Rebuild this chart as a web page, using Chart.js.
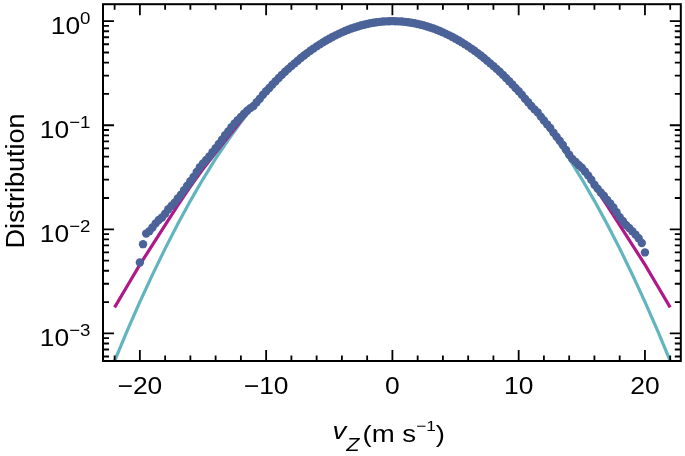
<!DOCTYPE html>
<html>
<head>
<meta charset="utf-8">
<script src="https://cdn.jsdelivr.net/npm/chart.js@4.4.0/dist/chart.umd.min.js"></script>
<style>
  html, body { margin: 0; padding: 0; background: #fff; }
  #wrap { width: 685px; height: 456px; }
</style>
</head>
<body>
<div id="wrap"><canvas id="grafico"></canvas></div>
<script>
// curvas teóricas (x cada 1 m/s)
const curveX = [-22,-21,-20,-19,-18,-17,-16,-15,-14,-13,-12,-11,-10,-9,-8,-7,-6,-5,-4,-3,-2,-1,0,
                1,2,3,4,5,6,7,8,9,10,11,12,13,14,15,16,17,18,19,20,21,22];
const gaussY = [0.000544,0.001062,0.002006,0.003676,0.00653,0.01125,0.01877,0.03039,0.04767,0.07249,0.1069,0.1528,
                0.2117,0.2843,0.3701,0.4671,0.5718,0.6783,0.7798,0.8696,0.9397,0.9846,1.0,
                0.9846,0.9397,0.8696,0.7798,0.6783,0.5718,0.4671,0.3701,0.2843,0.2117,
                0.1528,0.1069,0.07249,0.04767,0.03039,0.01877,0.01125,0.00653,0.003676,0.002006,0.001062,0.000544];
const kappaY = [0.00178,0.00285,0.00457,0.00708,0.01096,0.0170,0.0257,0.0380,0.0543,0.0776,0.1096,0.1549,
                0.2128,0.2850,0.3705,0.4675,0.5720,0.6785,0.7800,0.8697,0.9397,0.9846,1.0,
                0.9846,0.9397,0.8697,0.7800,0.6785,0.5720,0.4675,0.3705,0.2850,0.2128,
                0.1549,0.1096,0.0776,0.0543,0.0380,0.0257,0.0170,0.01096,0.00708,0.00457,0.00285,0.00178];

// datos medidos
const dotsX = [-20,-19.75,-19.5,-19.25,-19,-18.75,-18.5,-18.25,-18,-17.75,-17.5,-17.25,-17,-16.75,-16.5,-16.25,
  -16,-15.75,-15.5,-15.25,-15,-14.75,-14.5,-14.25,-14,-13.75,-13.5,-13.25,-13,-12.75,-12.5,-12.25,
  -12,-11.75,-11.5,-11.25,-11,-10.75,-10.5,-10.25,-10,-9.75,-9.5,-9.25,-9,-8.75,-8.5,-8.25,
  -8,-7.75,-7.5,-7.25,-7,-6.75,-6.5,-6.25,-6,-5.75,-5.5,-5.25,-5,-4.75,-4.5,-4.25,
  -4,-3.75,-3.5,-3.25,-3,-2.75,-2.5,-2.25,-2,-1.75,-1.5,-1.25,-1,-0.75,-0.5,-0.25,
  0,0.25,0.5,0.75,1,1.25,1.5,1.75,2,2.25,2.5,2.75,3,3.25,3.5,3.75,
  4,4.25,4.5,4.75,5,5.25,5.5,5.75,6,6.25,6.5,6.75,7,7.25,7.5,7.75,
  8,8.25,8.5,8.75,9,9.25,9.5,9.75,10,10.25,10.5,10.75,11,11.25,11.5,11.75,
  12,12.25,12.5,12.75,13,13.25,13.5,13.75,14,14.25,14.5,14.75,15,15.25,15.5,15.75,
  16,16.25,16.5,16.75,17,17.25,17.5,17.75,18,18.25,18.5,18.75,19,19.25,19.5,19.75,20];
const dotsY = [0.0048,0.0072,0.0091,0.0096,0.0104,0.0114,0.0123,0.0130,0.0141,0.0156,0.0168,0.0180,0.0198,0.0215,0.0238,0.0262,
  0.0290,0.0318,0.0355,0.0395,0.0430,0.0465,0.0500,0.0550,0.0600,0.0660,0.0725,0.0800,0.0870,0.0955,0.104,0.112,
  0.120,0.129,0.138,0.146,0.153,0.166,0.180,0.196,0.212,0.228,0.246,0.265,0.284,0.305,0.326,0.348,
  0.370,0.393,0.417,0.442,0.467,0.493,0.519,0.545,0.572,0.598,0.625,0.652,0.678,0.704,0.730,0.755,
  0.780,0.804,0.827,0.849,0.870,0.889,0.908,0.924,0.940,0.954,0.966,0.976,0.985,0.991,0.996,0.999,
  1.000,0.999,0.996,0.991,0.985,0.976,0.966,0.954,0.940,0.924,0.908,0.889,0.870,0.849,0.827,0.804,
  0.780,0.755,0.730,0.704,0.678,0.652,0.625,0.598,0.572,0.545,0.519,0.493,0.467,0.442,0.417,0.393,
  0.370,0.348,0.326,0.305,0.284,0.265,0.246,0.228,0.212,0.196,0.180,0.166,0.153,0.142,0.133,0.121,
  0.111,0.102,0.094,0.085,0.0775,0.071,0.0645,0.058,0.052,0.0475,0.0445,0.0415,0.0390,0.0360,0.0330,0.0300,
  0.0268,0.0246,0.0226,0.0210,0.0192,0.0177,0.0162,0.0146,0.0131,0.0120,0.0110,0.0103,0.0096,0.0089,0.0082,0.0074,0.0060];

const xMajor = [-20, -10, 0, 10, 20];
const xLabels = ['\u221220', '\u221210', '0', '10', '20'];
const yDecades = [0, -1, -2, -3];

const FUENTE = "'Liberation Sans', Arial, sans-serif";

function puntos(xs, ys) {
  return xs.map((v, i) => ({ x: v, y: ys[i] }));
}

// texto algo ensanchado, como en la figura original
function texto(ctx, str, x, y, size, sx, align, estilo) {
  ctx.font = (estilo || '') + ' ' + size + 'px ' + FUENTE;
  const w = ctx.measureText(str).width * sx;
  let left = x;
  if (align === 'center') left = x - w / 2;
  else if (align === 'right') left = x - w;
  ctx.save();
  ctx.translate(left, y);
  ctx.scale(sx, 1);
  ctx.fillText(str, 0, 0);
  ctx.restore();
  return w;
}

const marcoPlugin = {
  id: 'marco',
  afterDraw(chart) {
    const { ctx, chartArea: a, scales } = chart;
    const sx = scales.x, sy = scales.y;
    ctx.save();
    ctx.strokeStyle = '#000';
    ctx.fillStyle = '#000';
    ctx.textAlign = 'left';
    ctx.textBaseline = 'alphabetic';

    // ticks hacia dentro en los cuatro lados
    ctx.lineWidth = 1.8;
    ctx.beginPath();
    for (let v = -22; v <= 22; v += 2) {
      const px = sx.getPixelForValue(v);
      const len = xMajor.includes(v) ? 11 : 5.5;
      ctx.moveTo(px, a.bottom); ctx.lineTo(px, a.bottom - len);
      ctx.moveTo(px, a.top); ctx.lineTo(px, a.top + len);
    }
    for (let d = -4; d <= 0; d++) {
      for (let k = 1; k <= 9; k++) {
        const val = k * Math.pow(10, d);
        if (val < sy.min || val > sy.max) continue;
        const py = sy.getPixelForValue(val);
        const len = k === 1 ? 11 : 6;
        ctx.moveTo(a.left, py); ctx.lineTo(a.left + len, py);
        ctx.moveTo(a.right, py); ctx.lineTo(a.right - len, py);
      }
    }
    ctx.stroke();

    ctx.lineWidth = 2;
    ctx.strokeRect(a.left, a.top, a.right - a.left, a.bottom - a.top);

    // etiquetas eje x
    xMajor.forEach((v, i) => {
      texto(ctx, xLabels[i], sx.getPixelForValue(v), 393.5, 24, 1.1, 'center');
    });

    // etiquetas eje y: 10^n
    yDecades.forEach(d => {
      const py = sy.getPixelForValue(Math.pow(10, d));
      const sup = d === 0 ? '0' : '\u2212' + (-d);
      ctx.font = '17px ' + FUENTE;
      const supW = ctx.measureText(sup).width * 1.1;
      const right = 90.5;
      texto(ctx, '10', right - supW, py + 13, 24, 1.1, 'right');
      texto(ctx, sup, right - supW, py + 3, 17, 1.1, 'left');
    });

    // titulo eje y
    ctx.save();
    ctx.translate(23.5, 181);
    ctx.rotate(-Math.PI / 2);
    texto(ctx, 'Distribution', 0, 0, 25, 1.08, 'center');
    ctx.restore();

    // titulo eje x: v_Z (m s^-1)
    let cx = 332.5;
    cx += texto(ctx, 'v', cx, 438.5, 24, 1.15, 'left', 'italic');
    texto(ctx, 'Z', cx, 450.5, 18, 1.2, 'left', 'italic');
    cx = 362.5;
    cx += texto(ctx, '(m s', cx, 441.5, 24, 1.15, 'left');
    cx += texto(ctx, '\u22121', cx, 430.5, 15, 1.15, 'left');
    texto(ctx, ')', cx, 441.5, 24, 1.15, 'left');

    ctx.restore();
  }
};

new Chart(document.getElementById('grafico'), {
  type: 'scatter',
  data: {
    datasets: [
      {
        label: 'datos',
        data: puntos(dotsX, dotsY),
        backgroundColor: '#4b6398',
        borderWidth: 0,
        pointRadius: 4.2,
        pointHoverRadius: 4.2
      },
      {
        label: 'kappa',
        data: puntos(curveX, kappaY),
        showLine: true,
        borderColor: '#b0188a',
        borderWidth: 3.2,
        pointRadius: 0,
        clip: 0
      },
      {
        label: 'gauss',
        data: puntos(curveX, gaussY),
        showLine: true,
        borderColor: '#62b5bf',
        borderWidth: 3.2,
        pointRadius: 0,
        clip: 0
      }
    ]
  },
  options: {
    responsive: true,
    maintainAspectRatio: false,
    animation: false,
    layout: { padding: { top: 3, right: 2, left: 0, bottom: 0 } },
    plugins: { legend: { display: false }, tooltip: { enabled: false } },
    scales: {
      x: {
        type: 'linear',
        min: -22.92,
        max: 22.84,
        ticks: { display: false },
        grid: { display: false },
        border: { display: false },
        afterFit: s => { s.height = 95; }
      },
      y: {
        type: 'logarithmic',
        min: 5.43e-4,
        max: 1.455,
        ticks: { display: false },
        grid: { display: false },
        border: { display: false },
        afterFit: s => { s.width = 103; }
      }
    }
  },
  plugins: [marcoPlugin]
});
</script>
</body>
</html>
